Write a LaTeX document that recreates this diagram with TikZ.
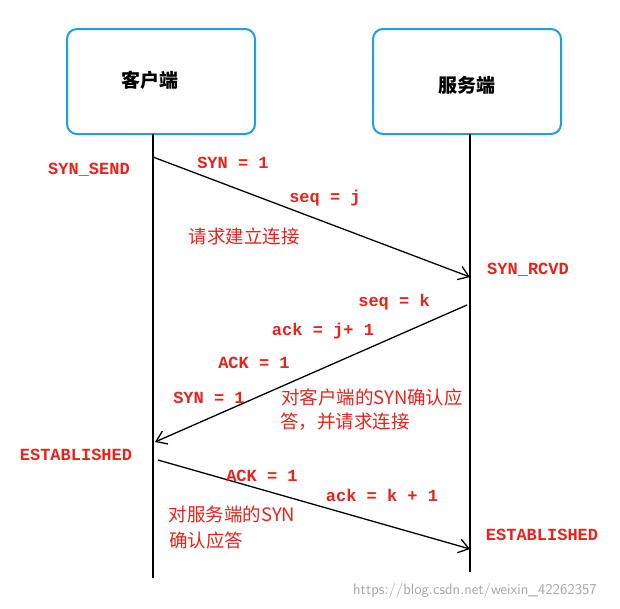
\documentclass[tikz,border=0pt]{standalone}
\usepackage{fontspec}
\setmainfont{Liberation Mono}
\newfontfamily\cjk{Noto Sans CJK SC}
\usetikzlibrary{arrows.meta}
\definecolor{boxc}{HTML}{1BA1E2}
\definecolor{lab}{HTML}{E8221C}
\tikzset{
 actor/.style={draw=boxc,line width=2pt,rounded corners=10pt},
 life/.style={line width=1.6pt},
 msg/.style={line width=1.3pt,-{Straight Barb[length=10pt,width=14pt,line width=1.3pt]}},
 lbl/.style={text=lab,font=\fontsize{17}{19}\selectfont\bfseries},
 clbl/.style={text=lab,font=\cjk\fontsize{18.5}{24}\selectfont,align=left},
}
\begin{document}
\begin{tikzpicture}[x=1pt,y=-1pt]
\useasboundingbox[fill=white] (0,0) rectangle (620,608);
\draw[actor] (67,29) rectangle (255,134);
\draw[actor] (373,29) rectangle (561,134);
\node[font=\cjk\bfseries\fontsize{19}{22}\selectfont] (ct) at (150,80) {客户端};
\node[font=\cjk\bfseries\fontsize{19}{22}\selectfont] (st) at (467,85) {服务端};
\coordinate (c0) at (153,134); \coordinate (c1) at (153,578);
\coordinate (s0) at (470,134); \coordinate (s1) at (470,572);
\draw[life] (c0) -- (c1);
\draw[life] (s0) -- (s1);
\coordinate (a1) at (153,157); \coordinate (b1) at (470,277);
\coordinate (a2) at (467,305); \coordinate (b2) at (155,442);
\coordinate (a3) at (158,460); \coordinate (b3) at (470,549);
\draw[msg] (a1) -- (b1);
\draw[msg] (a2) -- (b2);
\draw[msg] (a3) -- (b3);
\node[lbl] (l1) at (89,170) {SYN\_SEND};
\node[lbl] (l2) at (233,163) {SYN = 1};
\node[lbl] (l3) at (325,198) {seq = j};
\node[clbl] (l4) at (244,236) {请求建立连接};
\node[lbl] (l5) at (528,270) {SYN\_RCVD};
\node[lbl] (l6) at (394,302) {seq =  k};
\node[lbl] (l7) at (323,331) {ack = j+ 1};
\node[lbl] (l8) at (254,363) {ACK = 1};
\node[lbl] (l9) at (209,398) {SYN = 1};
\node[clbl] (l10) at (372,397) {对客户端的SYN确认应};
\node[clbl] (l11) at (345,422) {答，并请求连接};
\node[lbl] (l12) at (76,455) {ESTABLISHED};
\node[lbl] (l13) at (262,476) {ACK = 1};
\node[lbl] (l14) at (382,495) {ack = k + 1};
\node[clbl] (l15) at (232,514) {对服务端的SYN};
\node[clbl] (l16) at (206,540) {确认应答};
\node[lbl] (l17) at (542,535) {ESTABLISHED};
\node[text=gray!70,font=\sffamily\fontsize{15}{17}\selectfont] (wm) at (475,591) {https://blog.csdn.net/weixin\_42262357};
\end{tikzpicture}
\end{document}
